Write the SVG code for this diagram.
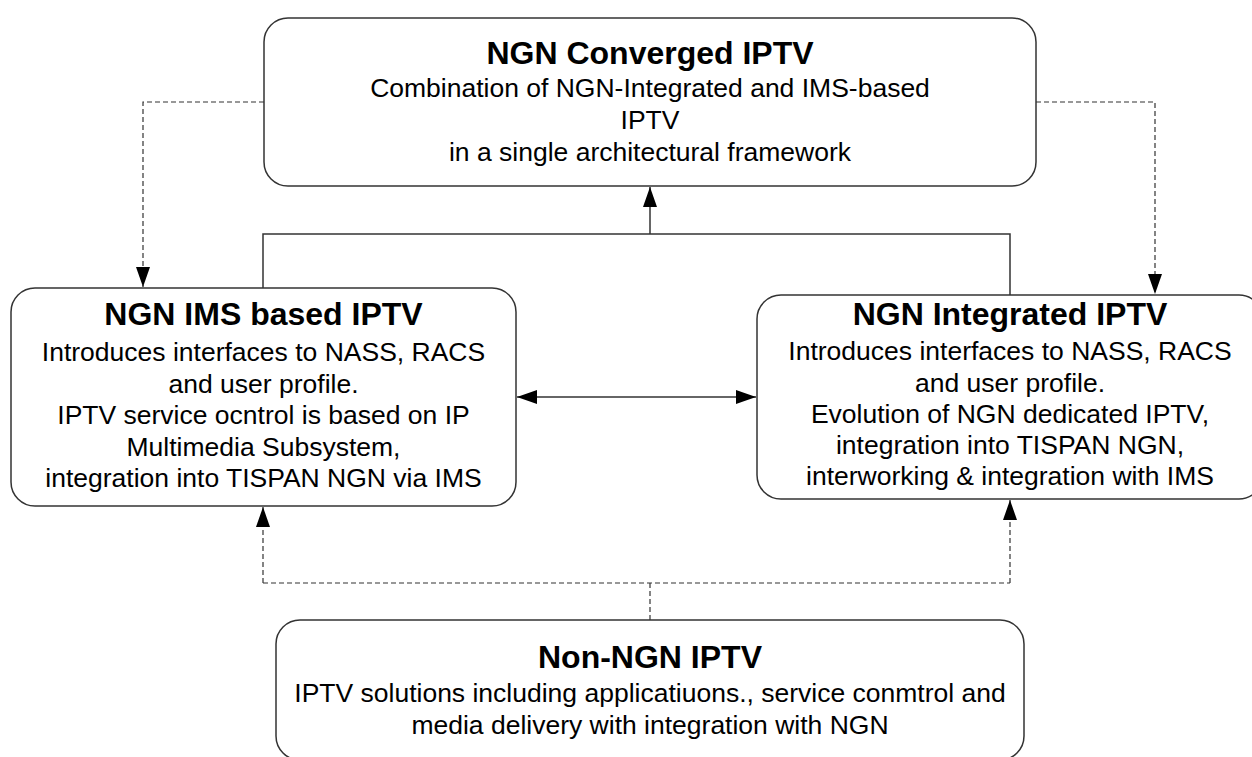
<svg xmlns="http://www.w3.org/2000/svg" width="1252" height="757" viewBox="0 0 1252 757">
<style>
.box{fill:#fff;stroke:#333;stroke-width:1.5}
.t{font-family:"Liberation Sans",Arial,sans-serif;font-size:26.5px;fill:#000;text-anchor:middle}
.h{font-family:"Liberation Sans",Arial,sans-serif;font-size:32px;font-weight:bold;fill:#000;text-anchor:middle}
.solid{fill:none;stroke:#333;stroke-width:1.5}
.dash{fill:none;stroke:#333;stroke-width:1.2;stroke-dasharray:5,3}
</style>
<defs>
<marker id="ah" viewBox="0 0 20 14" refX="20" refY="7" markerWidth="20" markerHeight="14" markerUnits="userSpaceOnUse" orient="auto-start-reverse">
<path d="M0,0 L20,7 L0,14 Z" fill="#000"/>
</marker>
</defs>
<rect width="1252" height="757" fill="#fff"/>
<g id="connectors">
<path class="solid" d="M263,288 V234 H1010 V295"/>
<path class="solid" d="M650,234 V187" marker-end="url(#ah)"/>
<path class="dash" d="M264,102 H143 V287" marker-end="url(#ah)"/>
<path class="dash" d="M1036,102 H1155 V294" marker-end="url(#ah)"/>
<path class="solid" d="M517,397 H756" marker-start="url(#ah)" marker-end="url(#ah)"/>
<path class="dash" d="M650,620 V583"/>
<path class="dash" d="M263,583 H1010"/>
<path class="dash" d="M263,583 V507" marker-end="url(#ah)"/>
<path class="dash" d="M1010,583 V500" marker-end="url(#ah)"/>
</g>
<g id="node-converged">
<rect class="box" x="264" y="18" width="772" height="168" rx="24"/>
<text class="h" x="650" y="64">NGN Converged IPTV</text>
<text class="t" x="650" y="97">Combination of NGN-Integrated and IMS-based</text>
<text class="t" x="650" y="129">IPTV</text>
<text class="t" x="650" y="161">in a single architectural framework</text>
</g>
<g id="node-ims">
<rect class="box" x="11" y="288" width="505" height="218" rx="24"/>
<text class="h" x="263.5" y="325">NGN IMS based IPTV</text>
<text class="t" x="263.5" y="361">Introduces interfaces to NASS, RACS</text>
<text class="t" x="263.5" y="392.5">and user profile.</text>
<text class="t" x="263.5" y="424">IPTV service ocntrol is based on IP</text>
<text class="t" x="263.5" y="455.5">Multimedia Subsystem,</text>
<text class="t" x="263.5" y="487">integration into TISPAN NGN via IMS</text>
</g>
<g id="node-integrated">
<rect class="box" x="757" y="295" width="506" height="204" rx="24"/>
<text class="h" x="1010" y="325">NGN Integrated IPTV</text>
<text class="t" x="1010" y="360">Introduces interfaces to NASS, RACS</text>
<text class="t" x="1010" y="391.5">and user profile.</text>
<text class="t" x="1010" y="423">Evolution of NGN dedicated IPTV,</text>
<text class="t" x="1010" y="454">integration into TISPAN NGN,</text>
<text class="t" x="1010" y="485">interworking &amp; integration with IMS</text>
</g>
<g id="node-nonngn">
<rect class="box" x="276" y="620" width="748" height="140" rx="24"/>
<text class="h" x="650" y="668">Non-NGN IPTV</text>
<text class="t" x="650" y="702">IPTV solutions including applicatiuons., service conmtrol and</text>
<text class="t" x="650" y="734">media delivery with integration with NGN</text>
</g>
</svg>
